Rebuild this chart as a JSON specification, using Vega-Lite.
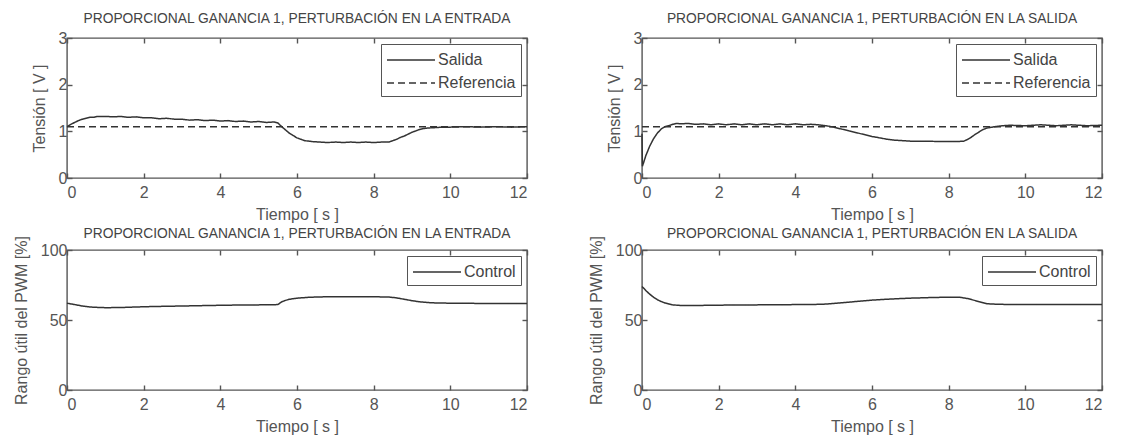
{
  "$schema": "https://vega.github.io/schema/vega-lite/v6.json",
  "background": "white",
  "padding": {"left": 12, "top": 11, "right": 5, "bottom": 5},
  "columns": 2,
  "spacing": {"row": 72, "column": 115},
  "bounds": "flush",
  "resolve": {
    "scale": {"x": "independent", "y": "independent", "strokeDash": "independent"},
    "legend": {"strokeDash": "independent"}
  },
  "datasets": {
    "tl": [
      {"t": 0, "v": 1.10, "s": "Salida"}, {"t": 0.1, "v": 1.15, "s": "Salida"}, {"t": 0.2, "v": 1.19, "s": "Salida"},
      {"t": 0.3, "v": 1.23, "s": "Salida"}, {"t": 0.4, "v": 1.26, "s": "Salida"}, {"t": 0.5, "v": 1.28, "s": "Salida"},
      {"t": 0.6, "v": 1.30, "s": "Salida"}, {"t": 0.7, "v": 1.30, "s": "Salida"}, {"t": 0.8, "v": 1.32, "s": "Salida"},
      {"t": 1.0, "v": 1.32, "s": "Salida"}, {"t": 1.2, "v": 1.31, "s": "Salida"}, {"t": 1.4, "v": 1.32, "s": "Salida"},
      {"t": 1.6, "v": 1.30, "s": "Salida"}, {"t": 1.8, "v": 1.31, "s": "Salida"}, {"t": 2.0, "v": 1.29, "s": "Salida"},
      {"t": 2.2, "v": 1.29, "s": "Salida"}, {"t": 2.4, "v": 1.27, "s": "Salida"}, {"t": 2.6, "v": 1.28, "s": "Salida"},
      {"t": 2.8, "v": 1.26, "s": "Salida"}, {"t": 3.0, "v": 1.26, "s": "Salida"}, {"t": 3.2, "v": 1.24, "s": "Salida"},
      {"t": 3.4, "v": 1.25, "s": "Salida"}, {"t": 3.6, "v": 1.23, "s": "Salida"}, {"t": 3.8, "v": 1.24, "s": "Salida"},
      {"t": 4.0, "v": 1.22, "s": "Salida"}, {"t": 4.2, "v": 1.23, "s": "Salida"}, {"t": 4.4, "v": 1.21, "s": "Salida"},
      {"t": 4.6, "v": 1.22, "s": "Salida"}, {"t": 4.8, "v": 1.20, "s": "Salida"}, {"t": 5.0, "v": 1.21, "s": "Salida"},
      {"t": 5.2, "v": 1.19, "s": "Salida"}, {"t": 5.4, "v": 1.20, "s": "Salida"}, {"t": 5.5, "v": 1.18, "s": "Salida"},
      {"t": 5.6, "v": 1.10, "s": "Salida"}, {"t": 5.7, "v": 1.03, "s": "Salida"}, {"t": 5.8, "v": 0.96, "s": "Salida"},
      {"t": 5.9, "v": 0.91, "s": "Salida"}, {"t": 6.0, "v": 0.86, "s": "Salida"}, {"t": 6.1, "v": 0.83, "s": "Salida"},
      {"t": 6.2, "v": 0.80, "s": "Salida"}, {"t": 6.4, "v": 0.78, "s": "Salida"}, {"t": 6.6, "v": 0.77, "s": "Salida"},
      {"t": 6.8, "v": 0.76, "s": "Salida"}, {"t": 7.0, "v": 0.77, "s": "Salida"}, {"t": 7.2, "v": 0.76, "s": "Salida"},
      {"t": 7.4, "v": 0.77, "s": "Salida"}, {"t": 7.6, "v": 0.76, "s": "Salida"}, {"t": 7.8, "v": 0.77, "s": "Salida"},
      {"t": 8.0, "v": 0.76, "s": "Salida"}, {"t": 8.2, "v": 0.77, "s": "Salida"}, {"t": 8.4, "v": 0.77, "s": "Salida"},
      {"t": 8.5, "v": 0.80, "s": "Salida"}, {"t": 8.6, "v": 0.83, "s": "Salida"}, {"t": 8.7, "v": 0.87, "s": "Salida"},
      {"t": 8.8, "v": 0.90, "s": "Salida"}, {"t": 8.9, "v": 0.94, "s": "Salida"}, {"t": 9.0, "v": 0.98, "s": "Salida"},
      {"t": 9.1, "v": 1.01, "s": "Salida"}, {"t": 9.2, "v": 1.04, "s": "Salida"}, {"t": 9.3, "v": 1.06, "s": "Salida"},
      {"t": 9.4, "v": 1.07, "s": "Salida"}, {"t": 9.6, "v": 1.08, "s": "Salida"}, {"t": 9.8, "v": 1.09, "s": "Salida"},
      {"t": 10.0, "v": 1.09, "s": "Salida"}, {"t": 10.4, "v": 1.10, "s": "Salida"}, {"t": 10.8, "v": 1.09, "s": "Salida"},
      {"t": 11.2, "v": 1.10, "s": "Salida"}, {"t": 11.6, "v": 1.09, "s": "Salida"}, {"t": 12.0, "v": 1.10, "s": "Salida"},
      {"t": 0, "v": 1.10, "s": "Referencia"}, {"t": 12, "v": 1.10, "s": "Referencia"}
    ],
    "tr": [
      {"t": 0, "v": 0.95, "s": "Salida"}, {"t": 0.01, "v": 0.25, "s": "Salida"}, {"t": 0.05, "v": 0.35, "s": "Salida"},
      {"t": 0.1, "v": 0.48, "s": "Salida"}, {"t": 0.15, "v": 0.58, "s": "Salida"}, {"t": 0.2, "v": 0.68, "s": "Salida"},
      {"t": 0.3, "v": 0.84, "s": "Salida"}, {"t": 0.4, "v": 0.96, "s": "Salida"}, {"t": 0.5, "v": 1.05, "s": "Salida"},
      {"t": 0.6, "v": 1.10, "s": "Salida"}, {"t": 0.7, "v": 1.12, "s": "Salida"}, {"t": 0.8, "v": 1.15, "s": "Salida"},
      {"t": 0.9, "v": 1.17, "s": "Salida"}, {"t": 1.0, "v": 1.16, "s": "Salida"}, {"t": 1.2, "v": 1.17, "s": "Salida"},
      {"t": 1.4, "v": 1.15, "s": "Salida"}, {"t": 1.6, "v": 1.16, "s": "Salida"}, {"t": 1.8, "v": 1.14, "s": "Salida"},
      {"t": 2.0, "v": 1.16, "s": "Salida"}, {"t": 2.2, "v": 1.14, "s": "Salida"}, {"t": 2.4, "v": 1.16, "s": "Salida"},
      {"t": 2.6, "v": 1.14, "s": "Salida"}, {"t": 2.8, "v": 1.16, "s": "Salida"}, {"t": 3.0, "v": 1.14, "s": "Salida"},
      {"t": 3.2, "v": 1.16, "s": "Salida"}, {"t": 3.4, "v": 1.14, "s": "Salida"}, {"t": 3.6, "v": 1.16, "s": "Salida"},
      {"t": 3.8, "v": 1.14, "s": "Salida"}, {"t": 4.0, "v": 1.16, "s": "Salida"}, {"t": 4.2, "v": 1.14, "s": "Salida"},
      {"t": 4.4, "v": 1.15, "s": "Salida"}, {"t": 4.6, "v": 1.14, "s": "Salida"}, {"t": 4.8, "v": 1.12, "s": "Salida"},
      {"t": 5.0, "v": 1.09, "s": "Salida"}, {"t": 5.2, "v": 1.05, "s": "Salida"}, {"t": 5.4, "v": 1.01, "s": "Salida"},
      {"t": 5.6, "v": 0.97, "s": "Salida"}, {"t": 5.8, "v": 0.93, "s": "Salida"}, {"t": 6.0, "v": 0.89, "s": "Salida"},
      {"t": 6.2, "v": 0.86, "s": "Salida"}, {"t": 6.4, "v": 0.83, "s": "Salida"}, {"t": 6.6, "v": 0.81, "s": "Salida"},
      {"t": 6.8, "v": 0.80, "s": "Salida"}, {"t": 7.0, "v": 0.79, "s": "Salida"}, {"t": 7.4, "v": 0.79, "s": "Salida"},
      {"t": 7.8, "v": 0.78, "s": "Salida"}, {"t": 8.2, "v": 0.78, "s": "Salida"}, {"t": 8.4, "v": 0.79, "s": "Salida"},
      {"t": 8.5, "v": 0.83, "s": "Salida"}, {"t": 8.6, "v": 0.88, "s": "Salida"}, {"t": 8.7, "v": 0.94, "s": "Salida"},
      {"t": 8.8, "v": 0.99, "s": "Salida"}, {"t": 8.9, "v": 1.04, "s": "Salida"}, {"t": 9.0, "v": 1.07, "s": "Salida"},
      {"t": 9.2, "v": 1.10, "s": "Salida"}, {"t": 9.4, "v": 1.12, "s": "Salida"}, {"t": 9.6, "v": 1.13, "s": "Salida"},
      {"t": 10.0, "v": 1.12, "s": "Salida"}, {"t": 10.4, "v": 1.14, "s": "Salida"}, {"t": 10.8, "v": 1.12, "s": "Salida"},
      {"t": 11.2, "v": 1.14, "s": "Salida"}, {"t": 11.6, "v": 1.12, "s": "Salida"}, {"t": 12.0, "v": 1.13, "s": "Salida"},
      {"t": 0, "v": 1.10, "s": "Referencia"}, {"t": 12, "v": 1.10, "s": "Referencia"}
    ],
    "bl": [
      {"t": 0, "v": 62, "s": "Control"}, {"t": 0.2, "v": 61, "s": "Control"}, {"t": 0.4, "v": 60, "s": "Control"},
      {"t": 0.6, "v": 59.3, "s": "Control"}, {"t": 0.8, "v": 59, "s": "Control"}, {"t": 1.0, "v": 58.8, "s": "Control"},
      {"t": 1.4, "v": 58.9, "s": "Control"}, {"t": 1.8, "v": 59.3, "s": "Control"}, {"t": 2.2, "v": 59.6, "s": "Control"},
      {"t": 2.6, "v": 59.8, "s": "Control"}, {"t": 3.0, "v": 60, "s": "Control"}, {"t": 3.4, "v": 60.2, "s": "Control"},
      {"t": 3.8, "v": 60.4, "s": "Control"}, {"t": 4.2, "v": 60.6, "s": "Control"}, {"t": 4.6, "v": 60.7, "s": "Control"},
      {"t": 5.0, "v": 60.8, "s": "Control"}, {"t": 5.5, "v": 61, "s": "Control"}, {"t": 5.6, "v": 63, "s": "Control"},
      {"t": 5.7, "v": 64, "s": "Control"}, {"t": 5.8, "v": 64.8, "s": "Control"}, {"t": 6.0, "v": 65.6, "s": "Control"},
      {"t": 6.3, "v": 66.2, "s": "Control"}, {"t": 6.6, "v": 66.5, "s": "Control"}, {"t": 7.0, "v": 66.6, "s": "Control"},
      {"t": 7.5, "v": 66.6, "s": "Control"}, {"t": 8.0, "v": 66.6, "s": "Control"}, {"t": 8.4, "v": 66.4, "s": "Control"},
      {"t": 8.6, "v": 65.8, "s": "Control"}, {"t": 8.8, "v": 64.8, "s": "Control"}, {"t": 9.0, "v": 63.8, "s": "Control"},
      {"t": 9.2, "v": 63, "s": "Control"}, {"t": 9.4, "v": 62.5, "s": "Control"}, {"t": 9.6, "v": 62.2, "s": "Control"},
      {"t": 10.0, "v": 62, "s": "Control"}, {"t": 11.0, "v": 61.8, "s": "Control"}, {"t": 12.0, "v": 61.8, "s": "Control"}
    ],
    "br": [
      {"t": 0, "v": 74, "s": "Control"}, {"t": 0.1, "v": 71, "s": "Control"}, {"t": 0.2, "v": 68.5, "s": "Control"},
      {"t": 0.3, "v": 66.3, "s": "Control"}, {"t": 0.4, "v": 64.5, "s": "Control"}, {"t": 0.5, "v": 63.2, "s": "Control"},
      {"t": 0.6, "v": 62.2, "s": "Control"}, {"t": 0.7, "v": 61.4, "s": "Control"}, {"t": 0.8, "v": 60.8, "s": "Control"},
      {"t": 1.0, "v": 60.4, "s": "Control"}, {"t": 1.5, "v": 60.4, "s": "Control"}, {"t": 2.0, "v": 60.6, "s": "Control"},
      {"t": 3.0, "v": 60.8, "s": "Control"}, {"t": 4.0, "v": 61, "s": "Control"}, {"t": 4.7, "v": 61.2, "s": "Control"},
      {"t": 5.0, "v": 61.8, "s": "Control"}, {"t": 5.5, "v": 63, "s": "Control"}, {"t": 6.0, "v": 64.2, "s": "Control"},
      {"t": 6.5, "v": 65, "s": "Control"}, {"t": 7.0, "v": 65.6, "s": "Control"}, {"t": 7.5, "v": 66, "s": "Control"},
      {"t": 8.0, "v": 66.3, "s": "Control"}, {"t": 8.3, "v": 66.2, "s": "Control"}, {"t": 8.5, "v": 65.3, "s": "Control"},
      {"t": 8.7, "v": 63.8, "s": "Control"}, {"t": 8.9, "v": 62.3, "s": "Control"}, {"t": 9.0, "v": 61.6, "s": "Control"},
      {"t": 9.3, "v": 61.2, "s": "Control"}, {"t": 10.0, "v": 61, "s": "Control"}, {"t": 12.0, "v": 61, "s": "Control"}
    ]
  },
  "concat": [
    {
      "title": "PROPORCIONAL GANANCIA 1, PERTURBACIÓN EN LA ENTRADA",
      "width": 460, "height": 140,
      "data": {"name": "tl"},
      "resolve": {"axis": {"x": "independent", "y": "independent"}},
      "layer": [
        {
          "mark": {"type": "line", "color": "#333333", "strokeWidth": 1.5},
          "encoding": {
            "x": {"field": "t", "type": "quantitative", "scale": {"domain": [0, 12], "nice": false},
                  "axis": {"title": "Tiempo [ s ]", "values": [0, 2, 4, 6, 8, 10, 12]}},
            "y": {"field": "v", "type": "quantitative", "scale": {"domain": [0, 3], "nice": false},
                  "axis": {"title": "Tensión [ V ]", "values": [0, 1, 2, 3], "titleX": -20}},
            "strokeDash": {"field": "s", "type": "nominal",
                  "scale": {"domain": ["Salida", "Referencia"], "range": [[1, 0], [7, 4]]},
                  "legend": {"title": null}}
          }
        },
        {
          "mark": {"type": "line", "opacity": 0},
          "encoding": {
            "x": {"field": "t", "type": "quantitative", "axis": {"orient": "top", "labels": false, "title": null, "values": [0, 2, 4, 6, 8, 10, 12]}},
            "y": {"field": "v", "type": "quantitative", "axis": {"orient": "right", "labels": false, "title": null, "values": [0, 1, 2, 3]}}
          }
        }
      ]
    },
    {
      "title": "PROPORCIONAL GANANCIA 1, PERTURBACIÓN EN LA SALIDA",
      "width": 460, "height": 140,
      "data": {"name": "tr"},
      "resolve": {"axis": {"x": "independent", "y": "independent"}},
      "layer": [
        {
          "mark": {"type": "line", "color": "#333333", "strokeWidth": 1.5},
          "encoding": {
            "x": {"field": "t", "type": "quantitative", "scale": {"domain": [0, 12], "nice": false},
                  "axis": {"title": "Tiempo [ s ]", "values": [0, 2, 4, 6, 8, 10, 12]}},
            "y": {"field": "v", "type": "quantitative", "scale": {"domain": [0, 3], "nice": false},
                  "axis": {"title": "Tensión [ V ]", "values": [0, 1, 2, 3], "titleX": -20}},
            "strokeDash": {"field": "s", "type": "nominal",
                  "scale": {"domain": ["Salida", "Referencia"], "range": [[1, 0], [7, 4]]},
                  "legend": {"title": null}}
          }
        },
        {
          "mark": {"type": "line", "opacity": 0},
          "encoding": {
            "x": {"field": "t", "type": "quantitative", "axis": {"orient": "top", "labels": false, "title": null, "values": [0, 2, 4, 6, 8, 10, 12]}},
            "y": {"field": "v", "type": "quantitative", "axis": {"orient": "right", "labels": false, "title": null, "values": [0, 1, 2, 3]}}
          }
        }
      ]
    },
    {
      "title": {"text": "PROPORCIONAL GANANCIA 1, PERTURBACIÓN EN LA ENTRADA", "dy": 9},
      "width": 460, "height": 140,
      "data": {"name": "bl"},
      "resolve": {"axis": {"x": "independent", "y": "independent"}},
      "layer": [
        {
          "mark": {"type": "line", "color": "#333333", "strokeWidth": 1.5},
          "encoding": {
            "x": {"field": "t", "type": "quantitative", "scale": {"domain": [0, 12], "nice": false},
                  "axis": {"title": "Tiempo [ s ]", "values": [0, 2, 4, 6, 8, 10, 12]}},
            "y": {"field": "v", "type": "quantitative", "scale": {"domain": [0, 100], "nice": false},
                  "axis": {"title": "Rango útil del PWM [%]", "values": [0, 50, 100], "titleX": -38}},
            "strokeDash": {"field": "s", "type": "nominal",
                  "scale": {"domain": ["Control"], "range": [[1, 0]]},
                  "legend": {"title": null}}
          }
        },
        {
          "mark": {"type": "line", "opacity": 0},
          "encoding": {
            "x": {"field": "t", "type": "quantitative", "axis": {"orient": "top", "labels": false, "title": null, "values": [0, 2, 4, 6, 8, 10, 12]}},
            "y": {"field": "v", "type": "quantitative", "axis": {"orient": "right", "labels": false, "title": null, "values": [0, 50, 100]}}
          }
        }
      ]
    },
    {
      "title": {"text": "PROPORCIONAL GANANCIA 1, PERTURBACIÓN EN LA SALIDA", "dy": 9},
      "width": 460, "height": 140,
      "data": {"name": "br"},
      "resolve": {"axis": {"x": "independent", "y": "independent"}},
      "layer": [
        {
          "mark": {"type": "line", "color": "#333333", "strokeWidth": 1.5},
          "encoding": {
            "x": {"field": "t", "type": "quantitative", "scale": {"domain": [0, 12], "nice": false},
                  "axis": {"title": "Tiempo [ s ]", "values": [0, 2, 4, 6, 8, 10, 12]}},
            "y": {"field": "v", "type": "quantitative", "scale": {"domain": [0, 100], "nice": false},
                  "axis": {"title": "Rango útil del PWM [%]", "values": [0, 50, 100], "titleX": -38}},
            "strokeDash": {"field": "s", "type": "nominal",
                  "scale": {"domain": ["Control"], "range": [[1, 0]]},
                  "legend": {"title": null}}
          }
        },
        {
          "mark": {"type": "line", "opacity": 0},
          "encoding": {
            "x": {"field": "t", "type": "quantitative", "axis": {"orient": "top", "labels": false, "title": null, "values": [0, 2, 4, 6, 8, 10, 12]}},
            "y": {"field": "v", "type": "quantitative", "axis": {"orient": "right", "labels": false, "title": null, "values": [0, 50, 100]}}
          }
        }
      ]
    }
  ],
  "config": {
    "font": "Liberation Sans",
    "view": {"stroke": "#555555", "strokeWidth": 1.4},
    "axis": {
      "domain": false, "grid": false, "ticks": true, "tickSize": -5, "tickColor": "#555555", "tickWidth": 1.4,
      "labelFontSize": 16, "labelColor": "#555555",
      "titleFontSize": 16, "titleFontWeight": "normal", "titleColor": "#555555"
    },
    "axisX": {"labelPadding": 11, "titlePadding": 6},
    "axisY": {"labelPadding": 5},
    "title": {"fontSize": 13.8, "fontWeight": "normal", "color": "#444444", "offset": 4, "frame": "group"},
    "legend": {
      "orient": "top-right", "offset": 6, "strokeColor": "#555555", "fillColor": "white", "padding": 5,
      "symbolType": "M-2.4,0H2.4", "symbolSize": 400, "symbolOffset": 14, "symbolStrokeWidth": 1.5, "symbolStrokeColor": "#333333",
      "labelFontSize": 16, "labelColor": "#444444", "labelOffset": 16, "rowPadding": 4, "cornerRadius": 0
    }
  }
}
